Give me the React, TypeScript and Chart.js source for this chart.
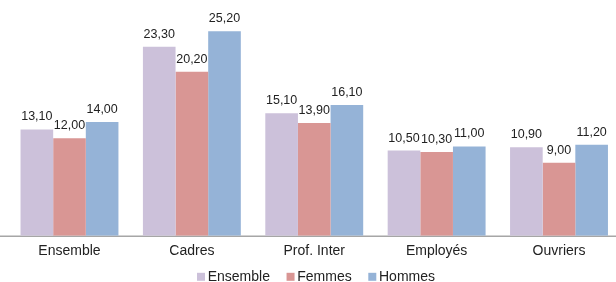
import React, { useEffect, useRef } from "react";
import { Chart, registerables } from "chart.js";

Chart.register(...registerables);

const categories = ["Ensemble", "Cadres", "Prof. Inter", "Employés", "Ouvriers"];
const ensembleValues = [13.1, 23.3, 15.1, 10.5, 10.9];
const femmesValues = [12.0, 20.2, 13.9, 10.3, 9.0];
const hommesValues = [14.0, 25.2, 16.1, 11.0, 11.2];
const seriesNames = ["Ensemble", "Femmes", "Hommes"];
const seriesColors = ["#CCC1DA", "#D99694", "#95B3D7"];

const FONT = "'Liberation Sans', Arial, sans-serif";

const labelPlugin = {
  id: "valueLabels",
  beforeDatasetsDraw(chart: any) {
    const ctx = chart.ctx;
    const y = chart.chartArea.bottom;
    ctx.save();
    ctx.strokeStyle = "#A6A6A6";
    ctx.lineWidth = 1.6;
    ctx.beginPath();
    ctx.moveTo(0, y + 0.5);
    ctx.lineTo(chart.width, y + 0.5);
    ctx.stroke();
    ctx.restore();
  },
  afterDatasetsDraw(chart: any) {
    const ctx = chart.ctx;
    ctx.save();
    ctx.font = `12.5px ${FONT}`;
    ctx.fillStyle = "#222222";
    ctx.textAlign = "center";
    ctx.textBaseline = "alphabetic";
    chart.data.datasets.forEach((ds: any, i: number) => {
      const meta = chart.getDatasetMeta(i);
      meta.data.forEach((el: any, j: number) => {
        const v = ds.data[j] as number;
        ctx.fillText(v.toFixed(2).replace(".", ","), el.x, el.y - 9);
      });
    });
    ctx.restore();
  },
  afterDraw(chart: any) {
    const ctx = chart.ctx;
    ctx.save();
    ctx.font = `14px ${FONT}`;
    ctx.textBaseline = "alphabetic";
    ctx.textAlign = "left";
    const box = 8;
    const gap = 2.7;
    const spacing = 16.6;
    const widths = seriesNames.map((n) => box + gap + ctx.measureText(n).width);
    const total = widths.reduce((a, b) => a + b, 0) + spacing * (seriesNames.length - 1);
    let x = 316 - total / 2;
    const baseline = 280.6;
    seriesNames.forEach((n, i) => {
      ctx.fillStyle = seriesColors[i];
      ctx.fillRect(x, baseline - 7.8, box, box);
      ctx.fillStyle = "#222222";
      ctx.fillText(n, x + box + gap, baseline);
      x += widths[i] + spacing;
    });
    ctx.restore();
  },
};

export default function App() {
  const ref = useRef<HTMLCanvasElement>(null);
  useEffect(() => {
    if (!ref.current) return;
    const chart = new Chart(ref.current, {
      type: "bar",
      data: {
        labels: categories,
        datasets: [ensembleValues, femmesValues, hommesValues].map((d, i) => ({
          label: seriesNames[i],
          data: d,
          backgroundColor: seriesColors[i],
          borderWidth: 0,
          categoryPercentage: 0.8,
          barPercentage: 1,
        })),
      },
      options: {
        animation: false,
        responsive: false,
        maintainAspectRatio: false,
        layout: { padding: { left: 8.3, right: 0.8, top: 8.5, bottom: 15.5 } },
        scales: {
          x: {
            grid: { display: false, drawTicks: false, tickLength: 0 },
            border: { display: false },
            ticks: { color: "#222222", font: { family: FONT, size: 14 }, padding: 7 },
          },
          y: { display: false, min: 0, max: 28 },
        },
        plugins: {
          legend: { display: false },
          tooltip: { enabled: false },
        },
      },
      plugins: [labelPlugin],
    });
    return () => chart.destroy();
  }, []);
  return (
    <div style={{ position: "fixed", left: 0, top: 0, width: 616, height: 282, overflow: "hidden" }}>
      <canvas ref={ref} width={621} height={282} style={{ display: "block" }} />
    </div>
  );
}
